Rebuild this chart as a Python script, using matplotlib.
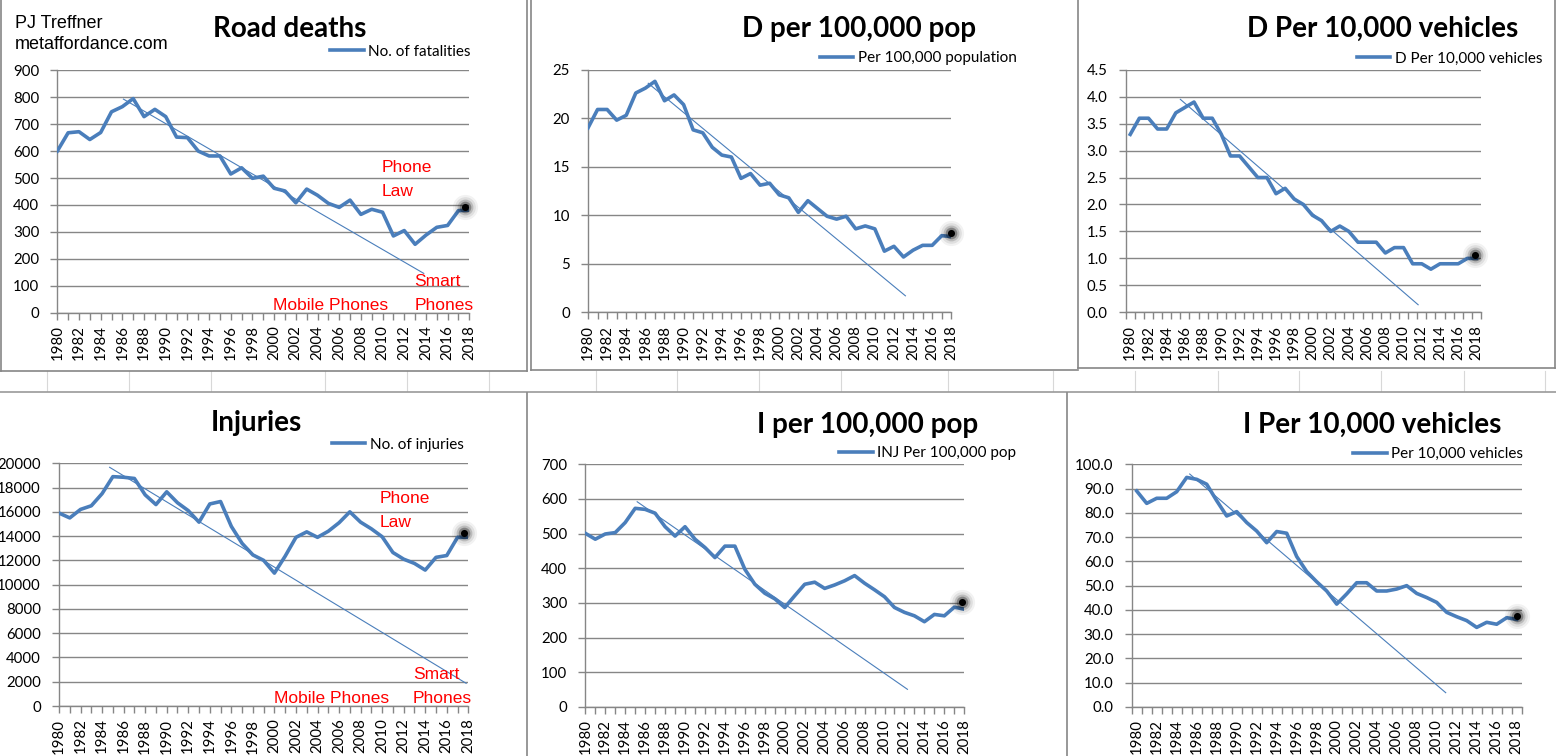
import numpy as np
import matplotlib
matplotlib.use("Agg")
import matplotlib.pyplot as plt
from matplotlib.lines import Line2D
from matplotlib.ticker import FormatStrFormatter, FixedLocator

plt.rcParams['font.family'] = ['Lato', 'DejaVu Sans']

W, H = 1556, 756

# ---- data ----
years = np.arange(1980, 2019)

deaths = [600, 668, 672, 643, 669, 746, 765, 795, 728, 755, 728, 652, 650, 600, 582, 582,
          515, 538, 499, 507, 462, 452, 408, 459, 436, 406, 391, 418, 365, 384, 373, 285,
          305, 254, 288, 317, 324, 379, 381]
deaths_per_pop = [19.0, 20.9, 20.9, 19.8, 20.3, 22.6, 23.1, 23.8, 21.8, 22.4, 21.4, 18.8,
                  18.5, 17.0, 16.2, 16.0, 13.8, 14.3, 13.1, 13.3, 12.1, 11.8, 10.3, 11.5,
                  10.7, 9.9, 9.6, 9.9, 8.6, 8.9, 8.6, 6.3, 6.8, 5.7, 6.4, 6.9, 6.9, 7.9, 7.8]
deaths_per_veh = [3.3, 3.6, 3.6, 3.4, 3.4, 3.7, 3.8, 3.9, 3.6, 3.6, 3.3, 2.9, 2.9, 2.7, 2.5,
                  2.5, 2.2, 2.3, 2.1, 2.0, 1.8, 1.7, 1.5, 1.6, 1.5, 1.3, 1.3, 1.3, 1.1, 1.2,
                  1.2, 0.9, 0.9, 0.8, 0.9, 0.9, 0.9, 1.0, 1.0]
injuries = [15900, 15500, 16200, 16500, 17500, 18900, 18850, 18750, 17400, 16600, 17650,
            16750, 16100, 15150, 16650, 16850, 14800, 13400, 12450, 12000, 10950, 12350,
            13900, 14350, 13900, 14400, 15100, 16000, 15150, 14600, 13950, 12650, 12100,
            11750, 11200, 12250, 12400, 13900, 13900]
inj_per_pop = [501, 484, 499, 503, 532, 573, 570, 559, 520, 493, 520, 484, 460, 431, 464,
               464, 397, 354, 328, 312, 287, 321, 354, 360, 342, 352, 364, 379, 357, 338,
               318, 287, 273, 263, 246, 267, 263, 288, 282]
inj_per_veh = [89.0, 83.9, 86.0, 86.0, 88.7, 94.6, 93.8, 91.8, 85.0, 78.7, 80.5, 76.0, 72.5,
               67.7, 72.3, 71.6, 62.0, 55.8, 51.6, 47.8, 42.4, 46.6, 51.2, 51.2, 47.8, 47.8,
               48.6, 50.0, 46.8, 45.1, 43.1, 39.0, 37.2, 35.6, 32.8, 34.9, 34.1, 36.8, 36.1]

# trend line end points (year, value)
deaths_trend = ([1986.1, 2013.8], [793, 146])
dpop_trend = ([1986.3, 2013.2], [23.6, 1.7])
dveh_trend = ([1985.5, 2011.6], [3.95, 0.14])
inj_trend = ([1984.7, 2017.8], [19670, 1870])
ipop_trend = ([1985.2, 2012.3], [592, 51])
iveh_trend = ([1985.3, 2010.9], [96.0, 5.9])

# highlighted points
deaths_dot = (2017.6, 394)
dpop_dot = (2018.0, 8.2)
dveh_dot = (2017.8, 1.06)
inj_dot = (2017.6, 14290)
ipop_dot = (2017.8, 304)
iveh_dot = (2018.0, 37.5)

BLUE = '#4A7EBB'
GREY = '#868686'

fig = plt.figure(figsize=(W / 100, H / 100), dpi=100)


def fx(x):
    return x / W


def fy(y):
    return 1 - y / H


def hline(x0, x1, y, color=GREY, lw=1.2):
    fig.add_artist(Line2D([fx(x0), fx(x1)], [fy(y), fy(y)], color=color, lw=lw))


def vline(x, y0, y1, color=GREY, lw=1.2):
    fig.add_artist(Line2D([fx(x), fx(x)], [fy(y0), fy(y1)], color=color, lw=lw))


# spreadsheet background: cell row between the two rows of charts
for cx in [47, 129, 211, 325, 407, 489, 596, 677, 759, 841, 948, 1053, 1135, 1218, 1299, 1381, 1464, 1545]:
    vline(cx, 371, 391, color='#d8d8d8', lw=0.8)
hline(0, W, 391.5, color='#9a9a9a', lw=1.2)
# chart borders
vline(1, 0, 370.7)
vline(527, 0, 370.7)
hline(0, 527, 370.7)
vline(530.7, 0, 370)
hline(530.7, 1077.7, 370)
vline(1077.7, 0, 368.3)
vline(1555, 0, 368.3)
hline(1077.7, 1555, 368.3)
vline(527, 392.7, H)
vline(1066.7, 392.7, H)


def panel(rect, values, ymax, ystep, fmt, between, trend, dot, title, tpos, label, lpos):
    l, t, r, b = rect
    ax = fig.add_axes([fx(l), fy(b), (r - l) / W, (b - t) / H])
    ax.plot(years, values, color=BLUE, lw=2.6, solid_joinstyle='round', label=label, zorder=3)
    ax.plot(trend[0], trend[1], color=BLUE, lw=0.8, zorder=2)
    # blurred black highlight
    for s, a in [(330, 0.05), (220, 0.08), (130, 0.16), (70, 0.3)]:
        ax.scatter([dot[0]], [dot[1]], s=s, color='black', alpha=a, lw=0, zorder=4, clip_on=False)
    ax.scatter([dot[0]], [dot[1]], s=26, color='black', lw=0, zorder=5, clip_on=False)

    if between:
        ax.set_xlim(1979.5, 2018.5)
        ax.xaxis.set_major_locator(FixedLocator(years[::2]))
        ax.xaxis.set_minor_locator(FixedLocator(np.arange(1979.5, 2019, 1)))
        ax.tick_params(axis='x', which='major', length=0, pad=9)
    else:
        ax.set_xlim(1980, 2018)
        ax.xaxis.set_major_locator(FixedLocator(years[::2]))
        ax.xaxis.set_minor_locator(FixedLocator(years[1::2]))
        ax.tick_params(axis='x', which='major', length=5, pad=4)
    ax.tick_params(axis='x', which='minor', length=5, width=1, color=GREY)
    ax.tick_params(axis='x', which='major', width=1, color=GREY, labelrotation=90, labelsize=10.8)
    ax.set_ylim(0, ymax)
    ax.set_yticks(np.arange(0, ymax + ystep / 2, ystep))
    ax.yaxis.set_major_formatter(FormatStrFormatter(fmt))
    ax.tick_params(axis='y', length=5, width=1, color=GREY, pad=8, labelsize=10.8)
    ax.grid(axis='y', color=GREY, lw=1)
    ax.set_axisbelow(True)
    for s in ['top', 'right']:
        ax.spines[s].set_visible(False)
    for s in ['left', 'bottom']:
        ax.spines[s].set_color(GREY)
        ax.spines[s].set_linewidth(1)
    ax.patch.set_alpha(0)

    fig.text(fx(tpos[0]), fy(tpos[1]), title, ha='center', va='baseline',
             fontsize=20, fontweight='bold')
    ax.legend(loc='center left', bbox_to_anchor=(fx(lpos[0]), fy(lpos[1])),
              bbox_transform=fig.transFigure, frameon=False, borderpad=0,
              borderaxespad=0, handlelength=2.2, handletextpad=0.3, fontsize=11)
    return ax


panel((57.3, 70.3, 469.3, 312.7), deaths, 900, 100, '%d', False, deaths_trend, deaths_dot,
      'Road deaths', (290, 37.3), 'No. of fatalities', (330, 51.7))
panel((588, 69.7, 951.3, 312.3), deaths_per_pop, 25, 5, '%d', False, dpop_trend, dpop_dot,
      'D per 100,000 pop', (859, 37.5), 'Per 100,000 population', (819.7, 58))
panel((1125.7, 69.7, 1481, 312.3), deaths_per_veh, 4.5, 0.5, '%.1f', True, dveh_trend, dveh_dot,
      'D Per 10,000 vehicles', (1383, 37.3), 'D Per 10,000 vehicles', (1356.7, 58.7))
panel((59, 463.3, 468.3, 706), injuries, 20000, 2000, '%d', False, inj_trend, inj_dot,
      'Injuries', (256, 431), 'No. of injuries', (331.7, 444.7))
panel((585.3, 464.3, 964.3, 707), inj_per_pop, 700, 100, '%d', False, ipop_trend, ipop_dot,
      'I per 100,000 pop', (868, 433.3), 'INJ Per 100,000 pop', (839, 453.3))
panel((1131.7, 464.3, 1521.7, 707), inj_per_veh, 100, 10, '%.1f', True, iveh_trend, iveh_dot,
      'I Per 10,000 vehicles', (1372.5, 433.3), 'Per 10,000 vehicles', (1353, 454))

# author credit
arial = ['Liberation Sans', 'DejaVu Sans']
fig.text(fx(15), fy(28.3), 'PJ Treffner', fontsize=13, family=arial, va='baseline')
fig.text(fx(15), fy(49.3), 'metaffordance.com', fontsize=13, family=arial, va='baseline')

# red annotations
red = dict(color='red', fontsize=12.5, family=arial, va='baseline')
for (x, y, s) in [(382, 171.7, 'Phone'), (382, 195.7, 'Law'), (414.3, 286, 'Smart'),
                  (414.3, 310, 'Phones'), (273.3, 310, 'Mobile Phones'),
                  (380, 502.7, 'Phone'), (380, 526.7, 'Law'), (412.7, 679, 'Smart'),
                  (412.7, 702.7, 'Phones'), (274, 702.7, 'Mobile Phones')]:
    fig.text(fx(x), fy(y), s, **red)

fig.savefig('out.png', dpi=100)
